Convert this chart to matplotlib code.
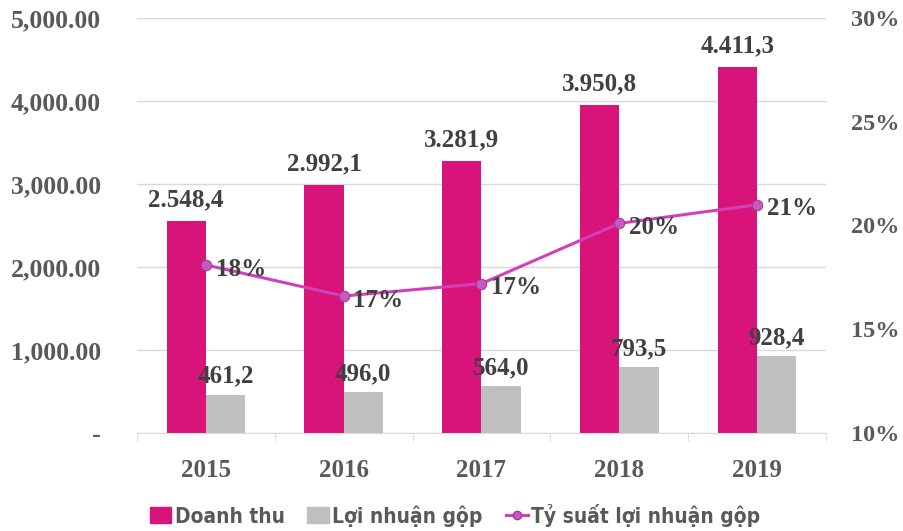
import matplotlib
matplotlib.use("Agg")
import matplotlib.pyplot as plt
import numpy as np
from matplotlib.ticker import FuncFormatter, FixedLocator
from matplotlib.lines import Line2D
from matplotlib.patches import Patch

years = ["2015", "2016", "2017", "2018", "2019"]
doanh_thu = [2548.4, 2992.1, 3281.9, 3950.8, 4411.3]
loi_nhuan = [461.2, 496.0, 564.0, 793.5, 928.4]
ty_suat = [18.1, 16.6, 17.2, 20.1, 21.0]

PINK = "#D8137A"
GREY = "#BFBFBF"
LINE = "#D040B8"
TXT = "#404040"
TICK = "#595959"

fig = plt.figure(figsize=(9.04, 5.31), dpi=100)
ax = fig.add_axes([0.1515, 0.1846, 0.7622, 0.7815])
ax2 = ax.twinx()

x = np.arange(len(years))
w = 0.285
ax.bar(x - w / 2, doanh_thu, w, color=PINK, zorder=2)
ax.bar(x + w / 2, loi_nhuan, w, color=GREY, zorder=2)

ax.set_xlim(-0.5, len(years) - 0.5)
ax.set_ylim(0, 5000)
ax.set_yticks(np.arange(0, 5001, 1000))
ax.yaxis.set_major_formatter(FuncFormatter(lambda v, p: "-" if v == 0 else f"{v:,.2f}"))
ax.grid(axis="y", color="#D9D9D9", lw=1, zorder=0)
ax.set_axisbelow(True)
for s in ["top", "left", "right"]:
    ax.spines[s].set_visible(False)
ax.spines["bottom"].set_color("#D9D9D9")
ax.set_xticks(x)
ax.set_xticklabels(years)
ax.tick_params(axis="x", length=0, pad=19)
ax.xaxis.set_minor_locator(FixedLocator(np.arange(-0.5, len(years), 1)))
ax.tick_params(axis="x", which="minor", length=6, color="#D9D9D9")
ax.tick_params(axis="y", length=0, pad=26)
for lab in ax.get_yticklabels():
    lab.set_fontfamily("Liberation Serif")
    lab.set_fontweight("bold")
    lab.set_fontsize(18.5)
    lab.set_color(TICK)
for lab in ax.get_xticklabels():
    lab.set_fontfamily("Liberation Serif")
    lab.set_fontweight("bold")
    lab.set_fontsize(18)
    lab.set_color(TICK)

ax2.plot(x, ty_suat, color=LINE, lw=2.2, marker="o", ms=7.5,
         mfc="#C85ABF", mec="#9E3F97", mew=0.8, zorder=3)
ax2.set_ylim(10, 30)
ax2.set_yticks([10, 15, 20, 25, 30])
ax2.yaxis.set_major_formatter(FuncFormatter(lambda v, p: f"{v:.0f}%"))
ax2.tick_params(axis="y", length=0, pad=18)
for s in ax2.spines.values():
    s.set_visible(False)
for lab in ax2.get_yticklabels():
    lab.set_fontfamily("Liberation Serif")
    lab.set_fontweight("bold")
    lab.set_fontsize(17.5)
    lab.set_color(TICK)

lab_kw = dict(fontfamily="Liberation Serif", fontweight="bold", fontsize=18, color=TXT)
for i in range(len(years)):
    ax.annotate(f"{doanh_thu[i]:,.1f}".replace(",", " ").replace(".", ",").replace(" ", "."),
                (x[i] - w / 2, doanh_thu[i]), xytext=(0, 7), textcoords="offset points",
                ha="center", va="bottom", **lab_kw)
    ax.annotate(f"{loi_nhuan[i]:.1f}".replace(".", ","),
                (x[i] + w / 2, loi_nhuan[i]), xytext=(0, 5), textcoords="offset points",
                ha="center", va="bottom", **lab_kw)
    ax2.annotate(f"{ty_suat[i]:.0f}%", (x[i], ty_suat[i]), xytext=(7, -3),
                 textcoords="offset points", ha="left", va="center", **lab_kw)

handles = [
    Patch(color=PINK),
    Patch(color=GREY),
    Line2D([0], [0], color=LINE, lw=2.2, marker="o", ms=6, mfc="#C85ABF", mec="#9E3F97"),
]
names = ["Doanh thu", "Lợi nhuận gộp", "Tỷ suất lợi nhuận gộp"]
fig.legend(handles, names, loc="center", bbox_to_anchor=(0.503, 0.03), ncol=3,
           frameon=False, handlelength=1.05, handleheight=0.8, handletextpad=0.15,
           columnspacing=1.1,
           prop=dict(family="DejaVu Sans", stretch="condensed", weight="bold", size=15))
for t in fig.legends[0].get_texts():
    t.set_color(TICK)

fig.savefig("out.png", dpi=100)
